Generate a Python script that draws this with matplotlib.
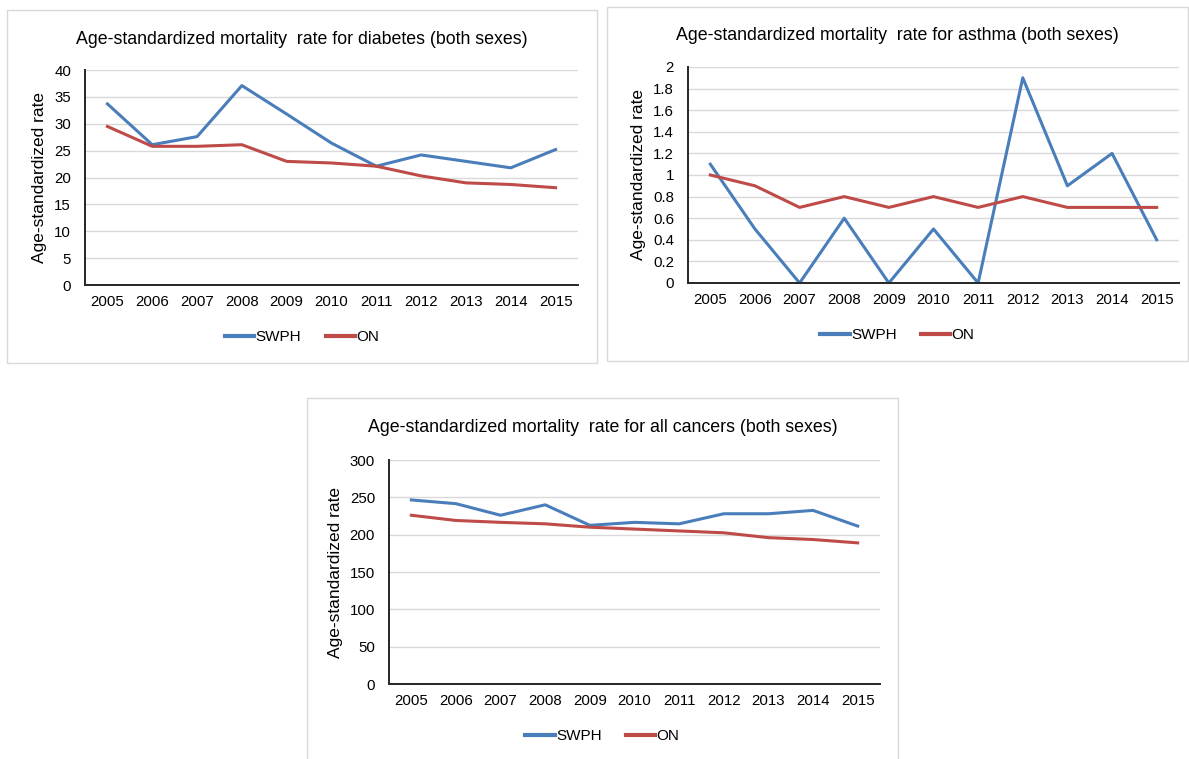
import matplotlib.pyplot as plt
from matplotlib.patches import Rectangle

plt.rcParams['font.family'] = ['Liberation Sans', 'DejaVu Sans']

years = ['2005', '2006', '2007', '2008', '2009', '2010',
         '2011', '2012', '2013', '2014', '2015']

# diabetes
diab_swph = [33.7, 26.1, 27.6, 37.1, 31.8, 26.4, 22.1, 24.2, 23.0, 21.8, 25.2]
diab_on = [29.5, 25.8, 25.8, 26.1, 23.0, 22.7, 22.1, 20.3, 19.0, 18.7, 18.1]

# asthma
asth_swph = [1.1, 0.5, 0.0, 0.6, 0.0, 0.5, 0.0, 1.9, 0.9, 1.2, 0.4]
asth_on = [1.0, 0.9, 0.7, 0.8, 0.7, 0.8, 0.7, 0.8, 0.7, 0.7, 0.7]

# all cancers
canc_swph = [246.5, 241.5, 226, 240, 212.5, 216.5, 214.5, 228, 228, 232.5, 211.5]
canc_on = [226, 219, 216.5, 214.5, 210, 207.5, 205, 202.5, 196, 193.5, 189]

W, H = 1189, 759
BLUE = '#4A7EBB'
RED = '#BE4B48'


def px_rect(x0, y0, x1, y1):
    # pixel box (top-left origin) -> figure fraction [left, bottom, width, height]
    return [x0 / W, 1 - y1 / H, (x1 - x0) / W, (y1 - y0) / H]


def panel(fig, box, ax_box, title, swph, on, ymax, step, fmt):
    bx = px_rect(*box)
    fig.add_artist(Rectangle((bx[0], bx[1]), bx[2], bx[3], transform=fig.transFigure,
                             fill=False, edgecolor='#D9D9D9', linewidth=1.0))
    ax = fig.add_axes(px_rect(*ax_box))
    x = range(len(years))
    ax.plot(x, swph, color=BLUE, linewidth=2.2, label='SWPH', solid_joinstyle='round')
    ax.plot(x, on, color=RED, linewidth=2.2, label='ON', solid_joinstyle='round')
    ax.set_xlim(-0.5, len(years) - 0.5)
    ax.set_ylim(0, ymax)
    ticks = [i * step for i in range(int(round(ymax / step)) + 1)]
    ax.set_yticks(ticks)
    ax.set_yticklabels([fmt(t) for t in ticks])
    ax.set_xticks(list(x))
    ax.set_xticklabels(years)
    ax.tick_params(length=0, labelsize=10.8, colors='#000000', pad=7)
    ax.tick_params(axis='y', pad=10)
    ax.grid(axis='y', color='#D9D9D9', linewidth=1.0)
    ax.set_axisbelow(True)
    for s in ('top', 'right'):
        ax.spines[s].set_visible(False)
    for s in ('left', 'bottom'):
        ax.spines[s].set_color('#262626')
        ax.spines[s].set_linewidth(1.4)
    ax.set_ylabel('Age-standardized rate', fontsize=12.5, labelpad=5)

    # title and legend are centred on the panel box, not on the axes
    cx = (box[0] + box[2]) / 2 / W
    fig.text(cx, 1 - (box[1] + 29) / H, title, fontsize=12.8,
             ha='center', va='center')
    leg = fig.legend(handles=ax.get_lines(), loc='center',
                     bbox_to_anchor=(cx, 1 - (ax_box[3] + 52) / H), ncol=2, frameon=False,
                     fontsize=11, handlelength=1.9, handletextpad=0.1, columnspacing=1.6)
    for h in leg.legend_handles:
        h.set_linewidth(3.0)
    return ax


def fmt_int(v):
    return '%d' % round(v)


def fmt_dec(v):
    v = round(v, 1)
    return '%d' % v if v == int(v) else ('%.1f' % v)


fig = plt.figure(figsize=(W / 100, H / 100), dpi=100)

panel(fig, (7, 10, 597, 363), (85, 70, 578, 285),
      'Age-standardized mortality  rate for diabetes (both sexes)',
      diab_swph, diab_on, 40, 5, fmt_int)
panel(fig, (607, 7, 1188, 361), (688, 67, 1179, 283),
      'Age-standardized mortality  rate for asthma (both sexes)',
      asth_swph, asth_on, 2, 0.2, fmt_dec)
panel(fig, (307, 398, 898, 760), (389, 460, 880, 684),
      'Age-standardized mortality  rate for all cancers (both sexes)',
      canc_swph, canc_on, 300, 50, fmt_int)

fig.savefig('out.png', dpi=100)
